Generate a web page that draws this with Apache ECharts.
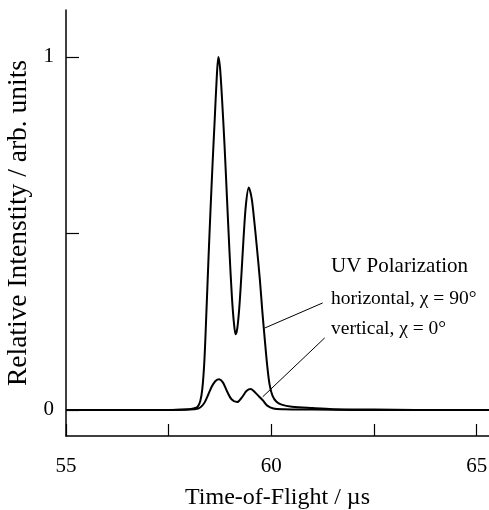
<!DOCTYPE html>
<html>
<head>
<meta charset="utf-8">
<script src="https://cdn.jsdelivr.net/npm/echarts@6/dist/echarts.min.js"></script>
<style>html,body{margin:0;padding:0;background:#fff}#c{width:489px;height:510px}</style>
</head>
<body>
<div id="c"></div>
<script>
// Horizontal polarization (chi = 90 deg)
const hTime = [55, 57.5, 58.0, 58.1, 58.2, 58.27, 58.32, 58.37, 58.42, 58.47, 58.52, 58.57, 58.62, 58.67, 58.71, 58.75, 58.8, 58.86, 58.92, 58.98, 59.04, 59.09, 59.13, 59.17, 59.22, 59.27, 59.32, 59.38, 59.45, 59.52, 59.58, 59.64, 59.72, 59.78, 59.84, 59.9, 59.96, 60.03, 60.12, 60.25, 60.5, 61.0, 61.5, 62.5, 63.5, 65.3];
const hIntensity = [0, 0, 0.002, 0.004, 0.008, 0.025, 0.06, 0.14, 0.28, 0.43, 0.57, 0.7, 0.82, 0.94, 1.0, 0.97, 0.88, 0.75, 0.6, 0.45, 0.32, 0.245, 0.214, 0.23, 0.29, 0.38, 0.48, 0.58, 0.63, 0.6, 0.54, 0.47, 0.37, 0.28, 0.2, 0.125, 0.07, 0.04, 0.024, 0.015, 0.009, 0.005, 0.002, 0.001, 0, 0];
// Vertical polarization (chi = 0 deg)
const vTime = [55, 57.5, 58.0, 58.22, 58.3, 58.38, 58.47, 58.55, 58.64, 58.73, 58.82, 58.92, 59.03, 59.17, 59.28, 59.4, 59.5, 59.6, 59.7, 59.8, 59.9, 60.05, 60.3, 61.0, 62.0, 65.3];
const vIntensity = [0, 0, 0.001, 0.004, 0.01, 0.022, 0.045, 0.066, 0.082, 0.087, 0.078, 0.053, 0.03, 0.022, 0.035, 0.054, 0.059, 0.05, 0.038, 0.026, 0.012, 0.004, 0.002, 0.001, 0, 0];
const xTickValues = [55, 57.5, 60, 62.5, 65];
const xLabelValues = [55, 60, 65];
const yTickValues = [0, 0.5, 1];
const yLabelValues = [0, 1];
const legendTitle = 'UV Polarization';
const seriesNames = ['horizontal, χ = 90°', 'vertical, χ = 0°'];
// leader lines: [from curve point, to label point] in data coords
const hLeader = [[59.84, 0.232], [61.25, 0.303]];
const vLeader = [[59.79, 0.037], [61.30, 0.204]];

const zip = (a, b) => a.map((x, i) => [x, b[i]]);
const font = '"Liberation Serif", "Times New Roman", serif';
const chart = echarts.init(document.getElementById('c'), null, {renderer: 'canvas'});
const leaderStyle = {color: '#000', width: 1, type: 'solid'};
chart.setOption({
  animation: false,
  backgroundColor: '#fff',
  grid: {left: 66, top: 10, right: 0, bottom: 74, containLabel: false, outerBoundsMode: 'none'},
  xAxis: {
    type: 'value', min: 55, max: 65.3,
    name: 'Time-of-Flight / µs', nameLocation: 'middle', nameGap: 50,
    nameTextStyle: {fontFamily: font, fontSize: 24, color: '#000'},
    axisLine: {show: true, onZero: false, lineStyle: {color: '#000', width: 1.5}},
    axisTick: {show: true, inside: true, length: 12, customValues: xTickValues, lineStyle: {color: '#000', width: 1.2}},
    axisLabel: {customValues: xLabelValues, fontFamily: font, fontSize: 21, color: '#000', margin: 20},
    splitLine: {show: false}
  },
  yAxis: {
    type: 'value', min: -0.074, max: 1.133,
    name: 'Relative Intenstity / arb. units', nameLocation: 'middle', nameGap: 31,
    nameTextStyle: {fontFamily: font, fontSize: 27.5, color: '#000'},
    axisLine: {show: true, onZero: false, lineStyle: {color: '#000', width: 1.5}},
    axisTick: {show: true, inside: true, length: 13, customValues: yTickValues, lineStyle: {color: '#000', width: 1.2}},
    axisLabel: {customValues: yLabelValues, fontFamily: font, fontSize: 21, color: '#000', margin: 12},
    splitLine: {show: false}
  },
  series: [
    {
      name: seriesNames[0], type: 'line', data: zip(hTime, hIntensity), smooth: 0.3,
      symbol: 'none', lineStyle: {color: '#000', width: 2}, z: 3,
      markLine: {silent: true, symbol: 'none', label: {show: false}, lineStyle: leaderStyle,
        data: [[{coord: hLeader[0]}, {coord: hLeader[1]}]]}
    },
    {
      name: seriesNames[1], type: 'line', data: zip(vTime, vIntensity), smooth: 0.3,
      symbol: 'none', lineStyle: {color: '#000', width: 2}, z: 3,
      markLine: {silent: true, symbol: 'none', label: {show: false}, lineStyle: leaderStyle,
        data: [[{coord: vLeader[0]}, {coord: vLeader[1]}]]}
    }
  ],
  graphic: [
    {type: 'text', left: 331, top: 256, style: {text: legendTitle, fontFamily: font, fontSize: 21, fill: '#000'}},
    {type: 'text', left: 331, top: 289, style: {text: seriesNames[0], fontFamily: font, fontSize: 19.5, fill: '#000'}},
    {type: 'text', left: 331, top: 319, style: {text: seriesNames[1], fontFamily: font, fontSize: 19.5, fill: '#000'}}
  ]
});
</script>
</body>
</html>
